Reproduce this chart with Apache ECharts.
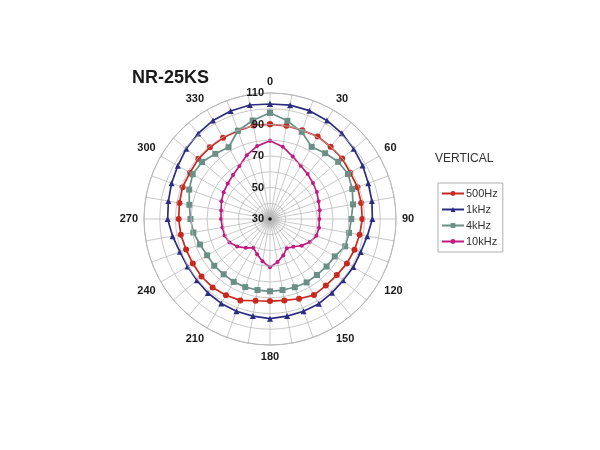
<!DOCTYPE html>
<html lang="en">
<head>
    <meta charset="UTF-8">
    <title>NR-25KS</title>
    <style>
        html, body { margin: 0; padding: 0; background: #fff; }
        #chart { width: 600px; height: 450px; }
    </style>
</head>
<body>
<div id="chart"></div>

<script type="text/javascript" src="https://cdn.jsdelivr.net/npm/echarts@6/dist/echarts.min.js"></script>
<script>
    // angles in degrees, clockwise from the top
    var angles = [0, 10, 20, 30, 40, 50, 60, 70, 80, 90, 100, 110, 120, 130, 140, 150, 160, 170,
        180, 190, 200, 210, 220, 230, 240, 250, 260, 270, 280, 290, 300, 310, 320, 330, 340, 350];

    var hz500 = [90.1, 90.1, 89.9, 90.5, 89.9, 89.8, 88.8, 89.1, 88.8, 88.6, 87.8, 87.1, 86.4, 85.4, 85.2, 85.8, 83.9, 82.5,
        82.1, 82.7, 85.0, 85.9, 86.7, 86.8, 86.6, 86.7, 87.5, 88.0, 88.4, 89.1, 88.7, 89.4, 89.4, 89.6, 89.6, 90.3];
    var khz1 = [103.0, 103.4, 103.2, 102.3, 101.0, 99.4, 97.9, 96.4, 95.7, 95.0, 92.7, 91.3, 91.1, 90.6, 91.2, 92.1, 92.3, 92.6,
        93.3, 92.6, 92.3, 91.9, 91.3, 90.6, 90.4, 90.9, 92.8, 95.0, 95.5, 96.5, 97.6, 99.4, 100.9, 102.3, 103.0, 103.5];
    var khz4 = [97.5, 93.3, 88.9, 82.9, 84.5, 86.5, 87.2, 85.6, 83.5, 81.6, 81.0, 80.8, 77.5, 76.9, 76.4, 76.5, 76.1, 75.8,
        75.9, 75.8, 76.0, 76.1, 75.8, 76.2, 76.1, 77.3, 79.4, 80.5, 82.0, 84.6, 86.7, 86.3, 84.0, 82.6, 89.6, 93.5];
    var khz10 = [79.7, 76.6, 72.2, 69.1, 67.2, 65.6, 64.3, 62.8, 62.0, 61.3, 61.6, 61.3, 59.2, 56.3, 53.0, 51.4, 54.6, 57.7,
        60.7, 57.3, 53.9, 51.1, 53.9, 57.2, 59.7, 60.7, 60.7, 61.1, 61.5, 62.8, 64.0, 65.0, 66.5, 68.9, 73.1, 77.0];

    var seriesNames = ['500Hz', '1kHz', '4kHz', '10kHz'];
    var seriesColors = ['#c8281e', '#2b2c82', '#6a8f86', '#c21c82'];
    var seriesSymbols = ['circle', 'triangle', 'rect', 'circle'];
    var symbolSizes = [6, 6, 6, 4];

    var cx = 270, cy = 219;

    // [radius, angle] pairs, closed back onto the first point
    function toPolar(values) {
        var pts = [];
        for (var i = 0; i < angles.length; i++) {
            pts.push([values[i], angles[i]]);
        }
        pts.push([values[0], 360]);
        return pts;
    }

    var allValues = [hz500, khz1, khz4, khz10];
    var series = [];
    for (var s = 0; s < allValues.length; s++) {
        series.push({
            name: seriesNames[s],
            type: 'line',
            coordinateSystem: 'polar',
            data: toPolar(allValues[s]),
            symbol: seriesSymbols[s],
            symbolSize: symbolSizes[s],
            showAllSymbol: true,
            color: seriesColors[s],
            lineStyle: { width: 1.7, color: seriesColors[s] },
            itemStyle: { color: seriesColors[s] },
            animation: false
        });
    }

    var chart = echarts.init(document.getElementById('chart'));
    chart.setOption({
        backgroundColor: '#ffffff',
        textStyle: { fontFamily: 'Liberation Sans, Arial, sans-serif' },
        graphic: [
            {
                type: 'text', left: 132, top: 69,
                style: { text: 'NR-25KS', font: 'bold 18px Liberation Sans, Arial, sans-serif', fill: '#1a1a1a' }
            },
            {
                type: 'text', left: 435, top: 153,
                style: { text: 'VERTICAL', font: '12px Liberation Sans, Arial, sans-serif', fill: '#333333' }
            },
            // the grey blur where the spokes meet
            {
                type: 'circle', z: -1,
                shape: { cx: cx, cy: cy, r: 14 },
                style: {
                    fill: {
                        type: 'radial', x: 0.5, y: 0.5, r: 0.5,
                        colorStops: [
                            { offset: 0, color: 'rgba(60,60,60,0.85)' },
                            { offset: 0.35, color: 'rgba(120,120,120,0.45)' },
                            { offset: 1, color: 'rgba(200,200,200,0)' }
                        ]
                    }
                }
            },
            {
                type: 'circle', z: 5,
                shape: { cx: cx, cy: cy, r: 1.8 },
                style: { fill: '#111111' }
            }
        ],
        legend: {
            orient: 'vertical',
            left: 438,
            top: 183,
            data: seriesNames,
            itemWidth: 22,
            itemHeight: 6,
            itemGap: 5,
            padding: [5, 5, 5, 3],
            borderColor: '#b0b0b0',
            borderWidth: 1,
            borderRadius: 0,
            textStyle: { fontSize: 11, color: '#333333', padding: [0, 0, 0, -3] }
        },
        polar: {
            center: [cx, cy],
            radius: 126
        },
        angleAxis: {
            type: 'value',
            min: 0,
            max: 360,
            interval: 10,
            startAngle: 90,
            clockwise: true,
            axisLine: { show: true, lineStyle: { color: '#b0b0b0', width: 1 } },
            axisTick: { show: false },
            splitLine: { show: true, lineStyle: { color: '#bababa', width: 0.8 } },
            axisLabel: {
                margin: 6,
                align: 'center',
                verticalAlign: 'middle',
                fontSize: 11,
                fontWeight: 'bold',
                color: '#1a1a1a',
                formatter: function (v) {
                    return (v % 30 === 0 && v < 360) ? String(v) : '';
                }
            }
        },
        radiusAxis: {
            type: 'value',
            min: 30,
            max: 110,
            interval: 10,
            axisLine: { show: false },
            axisTick: { show: false },
            splitLine: { show: true, lineStyle: { color: '#bababa', width: 0.8 } },
            axisLabel: {
                fontSize: 11,
                fontWeight: 'bold',
                color: '#1a1a1a',
                margin: 6,
                formatter: function (v) {
                    return (v - 30) % 20 === 0 ? String(v) : '';
                }
            },
            z: 10
        },
        series: series
    });
</script>
</body>
</html>
